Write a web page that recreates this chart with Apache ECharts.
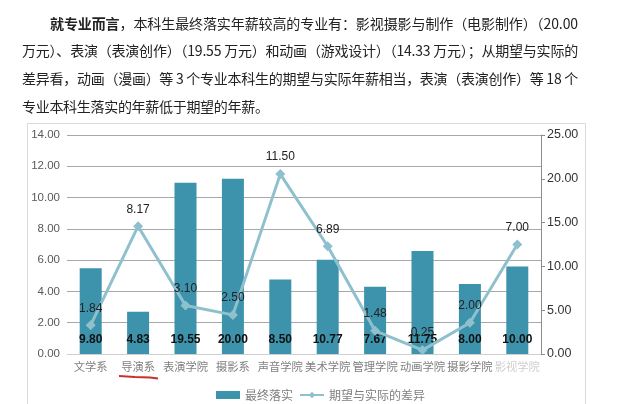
<!DOCTYPE html>
<html>
<head>
<meta charset="utf-8">
<script src="https://cdn.jsdelivr.net/npm/echarts@6/dist/echarts.min.js"></script>
<style>
html,body{margin:0;padding:0;background:#fff;}
#chart{position:absolute;left:0;top:0;width:640px;height:404px;}
.ln{position:absolute;white-space:nowrap;font-family:"Noto Sans CJK SC","Liberation Serif",serif;font-size:14px;color:#222;line-height:20px;z-index:5;}
.ln b{font-weight:bold;}
</style>
</head>
<body>
<div id="chart"></div>
<div class="ln" id="l1" data-target="528" style="left:50px;top:13px;"><b>就专业而言</b>，本科生最终落实年薪较高的专业有：影视摄影与制作（电影制作）（20.00</div>
<div class="ln" id="l2" data-target="556" style="left:22px;top:40px;">万元）、表演（表演创作）（19.55 万元）和动画（游戏设计）（14.33 万元）；从期望与实际的</div>
<div class="ln" id="l3" data-target="556" style="left:22px;top:68px;">差异看，动画（漫画）等 3 个专业本科生的期望与实际年薪相当，表演（表演创作）等 18 个</div>
<div class="ln" id="l4" data-target="" style="left:22px;top:96px;">专业本科生落实的年薪低于期望的年薪。</div>
<script>
// ---- data ----
var categories = ['文学系','导演系','表演学院','摄影系','声音学院','美术学院','管理学院','动画学院','摄影学院','影视学院'];
var finalSalary = [9.80, 4.83, 19.55, 20.00, 8.50, 10.77, 7.67, 11.75, 8.00, 10.00];
var gapValues = [1.84, 8.17, 3.10, 2.50, 11.50, 6.89, 1.48, 0.25, 2.00, 7.00];
var seriesNames = ['最终落实', '期望与实际的差异'];

// fit paragraph lines to widths
['l1','l2','l3','l4'].forEach(function(id){
  var el = document.getElementById(id);
  var t = parseFloat(el.getAttribute('data-target'));
  if (!t) { el.style.letterSpacing = '-0.3px'; return; }
  var w = el.getBoundingClientRect().width;
  var n = el.textContent.length;
  el.style.letterSpacing = ((t - w) / n) + 'px';
});

var chart = echarts.init(document.getElementById('chart'));
var fmt2 = function (v) { return Number(v).toFixed(2); };
var lineColor = '#8fc0cd';
chart.setOption({
  backgroundColor: '#fff',
  animation: false,
  grid: {left: 67, right: 99, top: 135, bottom: 50},
  legend: {
    left: 211, top: 384, itemGap: 6, itemWidth: 24, itemHeight: 8,
    textStyle: {color: '#7f7f7f', fontSize: 12, fontFamily: 'Noto Sans CJK SC'},
    data: [
      {name: seriesNames[0], icon: 'rect'},
      {name: seriesNames[1]}
    ]
  },
  xAxis: {
    type: 'category', data: categories,
    axisLine: {lineStyle: {color: '#d0d0d0'}},
    axisTick: {show: false},
    axisLabel: {
      interval: 0, margin: 7, color: '#7f7f7f', fontSize: 11.3, fontFamily: 'Noto Sans CJK SC',
      formatter: function (v, i) { return i === 9 ? '{blur|' + v + '}' : v; },
      rich: {blur: {color: '#cfcfcf', fontSize: 11.3, fontFamily: 'Noto Sans CJK SC'}}
    }
  },
  yAxis: [
    {
      type: 'value', min: 0, max: 14, interval: 2,
      axisLine: {show: false}, axisTick: {show: false},
      axisLabel: {formatter: fmt2, color: '#595959', fontSize: 11.5, margin: 7, fontFamily: 'Liberation Sans'},
      splitLine: {lineStyle: {color: '#a8a8a8', width: 1}}
    },
    {
      type: 'value', position: 'right', min: 0, max: 25, interval: 5,
      axisLine: {show: true, lineStyle: {color: '#8c8c8c'}},
      axisTick: {show: true, length: 4, lineStyle: {color: '#8c8c8c'}},
      axisLabel: {formatter: fmt2, color: '#333', fontSize: 12.5, margin: 6, fontFamily: 'Liberation Sans'},
      splitLine: {show: false}
    }
  ],
  series: [
    {
      name: seriesNames[0], type: 'bar', yAxisIndex: 1, data: finalSalary,
      barWidth: 22, itemStyle: {color: '#3d93ac'},
      label: {show: true, position: 'insideBottom', distance: 8, formatter: function (p) { return fmt2(p.value); },
        color: '#111', fontSize: 12, fontWeight: 'bold', fontFamily: 'Liberation Sans'},
      z: 2
    },
    {
      name: seriesNames[1], type: 'line', yAxisIndex: 0, data: gapValues,
      symbol: 'diamond', symbolSize: 10,
      lineStyle: {color: lineColor, width: 3},
      itemStyle: {color: lineColor},
      label: {show: true, position: 'top', distance: 6, formatter: function (p) { return fmt2(p.value); },
        color: '#222', fontSize: 12, fontFamily: 'Liberation Sans'},
      z: 3
    }
  ],
  graphic: [
    {type: 'rect', z: -1, silent: true, shape: {x: 27.5, y: 123.5, width: 558, height: 300},
      style: {fill: 'none', stroke: '#dadada', lineWidth: 1}},
    {type: 'polyline', z: 10, silent: true, shape: {points: [[119, 376], [135, 377], [150, 377.5], [158, 378.5]]},
      style: {stroke: '#c8312b', lineWidth: 2, fill: 'none'}}
  ]
});
</script>
</body>
</html>
